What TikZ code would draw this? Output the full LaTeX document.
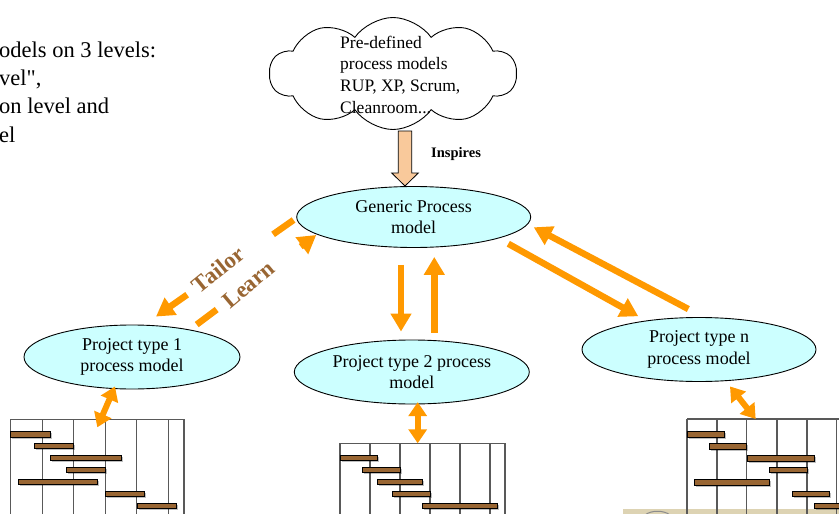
\documentclass[tikz,border=0pt]{standalone}
\usepackage{fontspec}
\setmainfont{Liberation Serif}[Ligatures=TeXOff]
\usetikzlibrary{shapes.geometric, shapes.symbols, arrows.meta, shadows}

\definecolor{modelfill}{HTML}{CCFFFF}
\definecolor{flow}{HTML}{FF9900}
\definecolor{peach}{HTML}{F9C99B}
\definecolor{bark}{HTML}{996633}
\definecolor{sand}{HTML}{DDD3B3}

\tikzset{
  model/.style={draw, ellipse, fill=modelfill, line width=0.9pt, inner sep=0pt, align=center, font=\fontsize{18}{21.5}\selectfont},
  flowarrow/.style={draw=flow, line width=6.5pt, -{Triangle[width=20pt,length=18pt]}},
  learnarrow/.style={flowarrow, dash pattern=on 25pt off 105pt},
  linkarrow/.style={draw=flow, line width=6pt, {Triangle[width=18pt,length=14pt]}-{Triangle[width=18pt,length=14pt]}},
  steptag/.style={font=\fontsize{23}{23}\selectfont\bfseries, text=bark, inner sep=0pt},
  gridline/.style={draw=black!65, line width=1.2pt},
  taskbar/.style={fill=bark, draw=black, line width=0.9pt, drop shadow={shadow xshift=1.5pt, shadow yshift=-1.5pt, fill=black, opacity=0.25}},
}

\begin{document}
\begin{tikzpicture}[x=1pt, y=-1pt]
  \clip (0,0) rectangle (839,514);

  % Intro text, cut at the left edge
  \node[anchor=north west, inner sep=0pt, align=left, font=\fontsize{22.5}{28.3}\selectfont] (intro) at (-1,41.3)
    {odels on 3 levels:\\vel",\\on level and\\el};

  % Cloud with the pre-defined models
  \node[cloud, draw, fill=white, line width=0.9pt, cloud puffs=10, cloud puff arc=110, aspect=2.1, minimum width=247pt, minimum height=112pt] (cloud) at (393,73.5) {};
  \node[anchor=north west, inner sep=0pt, align=left, font=\fontsize{17.5}{21.7}\selectfont] (predef) at (340,35.5)
    {Pre-defined\\process models\\RUP, XP, Scrum,\\Cleanroom...};

  % Inspires arrow
  \draw[fill=peach, line width=0.8pt] (398.3,131) -- (411.7,131) -- (411.7,173) -- (418.3,173) -- (405,186) -- (391.7,173) -- (398.3,173) -- cycle;
  \node[anchor=base west, inner sep=0pt, font=\fontsize{14.5}{14.5}\selectfont\bfseries] (inspires) at (431,157) {Inspires};

  % Process models
  \node[model, minimum width=234pt, minimum height=61pt] (gen) at (413.7,217) {Generic Process\\model};
  \node[model, minimum width=216pt, minimum height=64pt] (p1) at (132,357) {Project type 1\\process model};
  \node[model, minimum width=235pt, minimum height=64pt] (p2) at (411.8,372) {Project type 2 process\\model};
  \node[model, minimum width=234pt, minimum height=64pt] (pn) at (699,349.5) {Project type n\\process model};

  % Tailor and learn between generic and type 1
  \draw[learnarrow] ([xshift=-2.7pt,yshift=-3pt]gen.west) -- ([xshift=24pt,yshift=8pt]p1.north);
  \draw[learnarrow] ([xshift=64.7pt]p1.north) -- ([xshift=20pt,yshift=-18pt]gen.west);
  \node[steptag, rotate=39] (tailor) at (218,269.5) {Tailor};
  \node[steptag, rotate=40] (learn) at (248.5,284.5) {Learn};

  % Generic to type 2 and back
  \draw[flowarrow, shorten <=17pt, shorten >=8pt] ([xshift=-12.7pt]gen.south) -- ([xshift=-10.8pt]p2.north);
  \draw[flowarrow, shorten <=7pt, shorten >=9pt] ([xshift=22.5pt]p2.north) -- ([xshift=20.6pt]gen.south);

  % Generic to type n and back
  \draw[flowarrow] ([xshift=94.6pt,yshift=4.2pt]gen.south) -- ([xshift=-60.7pt,yshift=0.8pt]pn.north);
  \draw[flowarrow] ([xshift=-10.7pt,yshift=8pt]pn.north) -- ([xshift=2.6pt,yshift=-10.3pt]gen.east);

  % Plan under type 1
  \coordinate (c1) at (97.3,427.3);
  \draw[gridline] (10.7,419.3) -- (184,419.3);
  \foreach \x in {10.7,42.3,73.7,105.7,136.7,168.3,184}
    \draw[gridline] (\x,419.3) -- (\x,520);
  \foreach \a/\b/\y in {10.7/50/431.7, 34.3/73.7/443.3, 50/121.3/455, 66/105.3/467.3, 18.7/97.7/479.3, 105.3/144.7/491.3, 137/176.3/503.3}
    \draw[taskbar] (\a,\y) rectangle (\b,\y+5.5);

  % Plan under type 2
  \coordinate (c2) at (417.7,443.3);
  \draw[gridline] (340,443.3) -- (505,443.3);
  \foreach \x in {340,370,400,430,460,490,505}
    \draw[gridline] (\x,443.3) -- (\x,520);
  \foreach \a/\b/\y in {340/377.7/455.3, 362.7/400/467.3, 377.7/422.7/479.3, 392.7/430/491.3, 422.3/497.7/503.3}
    \draw[taskbar] (\a,\y) rectangle (\b,\y+5.5);

  % Strip at the bottom right
  \fill[sand] (623,509.3) rectangle (839,514);
  \draw[black!45, line width=1pt] (645,515) .. controls (651,510) and (664,510) .. (670,515);

  % Plan under type n
  \coordinate (cn) at (755.7,419);
  \draw[gridline] (687,419) -- (845,419);
  \foreach \x in {687,717,746.7,777,807,836.7}
    \draw[gridline] (\x,419) -- (\x,520);
  \foreach \a/\b/\y in {687/724.3/431.7, 709.7/746.7/443.7, 747/814.3/455.7, 769.7/807/467.3, 694.7/769.3/479.7, 792/829.3/491.3, 814.3/850/503.3}
    \draw[taskbar] (\a,\y) rectangle (\b,\y+5.5);

  % Links between models and plans
  \draw[linkarrow] ([xshift=-17pt,yshift=3pt]p1.south) -- (c1);
  \draw[linkarrow] ([xshift=5.9pt,yshift=2.3pt]p2.south) -- (c2);
  \draw[linkarrow] ([xshift=31pt,yshift=-4.5pt]pn.south) -- (cn);
\end{tikzpicture}
\end{document}
